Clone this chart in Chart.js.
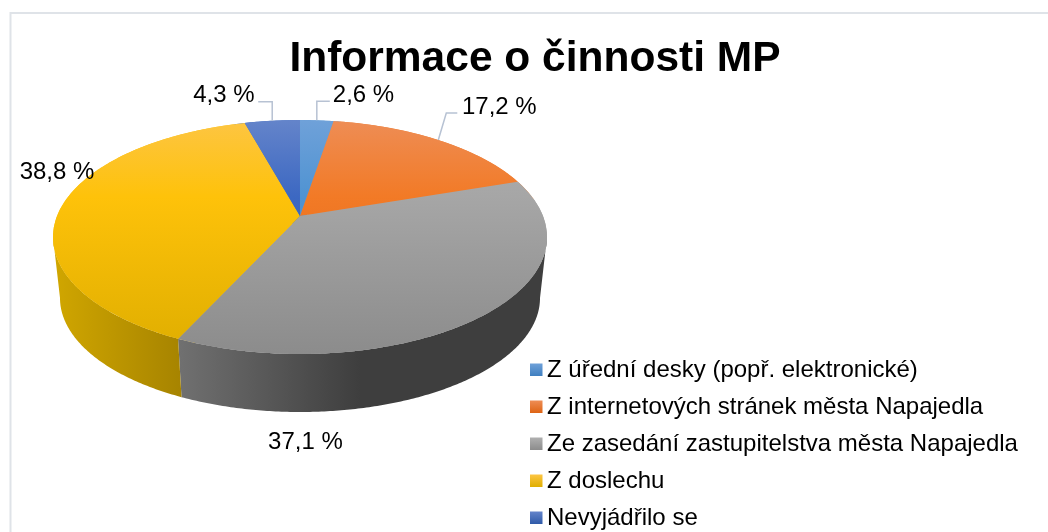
<!DOCTYPE html>
<html>
<head>
<meta charset="utf-8">
<style>html,body{margin:0;padding:0;background:#fff}canvas{display:block}</style>
<script src="https://cdn.jsdelivr.net/npm/chart.js@4"></script>
</head>
<body>
<canvas id="c" width="1048" height="532"></canvas>
<script>
const categories = [
  'Z úřední desky (popř. elektronické)',
  'Z internetových stránek města Napajedla',
  'Ze zasedání zastupitelstva města Napajedla',
  'Z doslechu',
  'Nevyjádřilo se'
];
const shares = [2.6, 17.2, 37.1, 38.8, 4.3];
const chartTitle = 'Informace o činnosti MP';
const baseColors = ['#5b9bd5', '#ed7d31', '#a5a5a5', '#ffc000', '#4472c4'];

// Appearance of the tilted pie
const FONT = '"Liberation Sans", Arial, sans-serif';
const LABEL_SIZE = 24;
const geom = {cx: 300, cy: 237, rx: 247, ry: 117, lift: 21, bcy: 298, brx: 240, bry: 114};
const persp = 2 * geom.lift / (2 * geom.ry);
const flatX = geom.rx * Math.sqrt(1 - persp * persp);
const edgeR = Math.acos(-persp), edgeL = 2 * Math.PI - edgeR;
const topStops = [
  ['#6fa1d9', '#4f93d2', '#3f7fc0'],
  ['#ee8d55', '#f27a26', '#de6414'],
  ['#b0b0b0', '#a6a6a6', '#8c8c8c'],
  ['#fdc543', '#fec20a', '#dfae00'],
  ['#6484ca', '#3c68c2', '#2f5aa8']
];
const wallStops = [
  null, null,
  {x0: 180, x1: 360, from: '#707070', to: '#3e3e3e'},
  {x0: 55, x1: 180, from: '#d0a600', to: '#a78400'},
  null
];
const labelShift = [[46.7, -25.3], [61, -33], [-182, 129], [-4.3, -35], [-48.4, -25.7]];
const leaders = [
  [[0, -19], [13, -19]],
  [[8, -27], [19, -27]],
  null,
  null,
  [[0, -19], [-14, -19]]
];

function project(theta) {
  const u = Math.sin(theta), v = -Math.cos(theta), d = 1 - persp * v;
  return {x: flatX * u / d, y: (geom.ry * v - geom.lift) / d};
}
function topPt(theta) {
  const p = project(theta);
  return {x: geom.cx + p.x, y: geom.cy + p.y};
}
function botPt(theta) {
  const p = project(theta);
  return {x: geom.cx + p.x * geom.brx / geom.rx, y: geom.bcy + p.y * geom.bry / geom.ry};
}
function sweep(a, b) {
  const n = Math.max(2, Math.ceil((b - a) / 0.01)), out = [];
  for (let i = 0; i <= n; i++) out.push(a + (b - a) * i / n);
  return out;
}

const tiltedPie = {
  id: 'tiltedPie',
  beforeDraw(chart) {
    const ctx = chart.ctx;
    ctx.save();
    ctx.strokeStyle = '#dfe3e8';
    ctx.lineWidth = 2;
    ctx.strokeRect(10.5, 13, 1100, 600);
    ctx.restore();
  },
  afterLayout(chart) {
    const lg = chart.legend, pad = lg.options.labels.padding;
    lg.left = 530 - pad;
    lg.right = 1048;
    lg.width = lg.right - lg.left;
    lg.top = 358 - pad;
    lg.bottom = 700;
    lg.height = lg.bottom - lg.top;
  },
  beforeDatasetsDraw(chart) {
    const arc = chart.getDatasetMeta(0).data[0], ctx = chart.ctx;
    ctx.save();
    ctx.translate(geom.cx, geom.cy);
    ctx.scale(geom.rx / arc.outerRadius, geom.ry / arc.outerRadius);
    ctx.translate(-arc.x, -arc.y);
  },
  afterDatasetsDraw(chart) {
    const ctx = chart.ctx, arcs = chart.getDatasetMeta(0).data;
    ctx.restore();
    const ang = a => ({s: a.startAngle + Math.PI / 2, e: a.endAngle + Math.PI / 2});
    // side walls: only the part of each slice between the two outer edges of the disc
    arcs.forEach((a, i) => {
      const w = wallStops[i];
      if (!w) return;
      const {s, e} = ang(a);
      const ts = sweep(Math.max(s, edgeR), Math.min(e, edgeL));
      const g = ctx.createLinearGradient(w.x0, 0, w.x1, 0);
      g.addColorStop(0, w.from);
      g.addColorStop(1, w.to);
      ctx.beginPath();
      ts.forEach((t, k) => { const p = topPt(t); k ? ctx.lineTo(p.x, p.y) : ctx.moveTo(p.x, p.y); });
      ts.slice().reverse().forEach(t => { const p = botPt(t); ctx.lineTo(p.x, p.y); });
      ctx.closePath();
      ctx.fillStyle = g;
      ctx.fill();
    });
    // top faces
    arcs.forEach((a, i) => {
      const {s, e} = ang(a);
      const g = ctx.createLinearGradient(0, 120, 0, 353);
      const st = topStops[i];
      g.addColorStop(0, st[0]);
      g.addColorStop(0.33, st[1]);
      g.addColorStop(1, st[2]);
      ctx.beginPath();
      ctx.moveTo(geom.cx, geom.cy - geom.lift);
      sweep(s, e).forEach(t => { const p = topPt(t); ctx.lineTo(p.x, p.y); });
      ctx.closePath();
      ctx.fillStyle = g;
      ctx.fill();
    });
  },
  afterDraw(chart) {
    const ctx = chart.ctx, arcs = chart.getDatasetMeta(0).data, lg = chart.legend;
    // legend swatches
    const pad = lg.options.labels.padding;
    arcs.forEach((a, i) => {
      const x = 530, y = 363.5 + i * (LABEL_SIZE + pad);
      const g = ctx.createLinearGradient(0, y, 0, y + 12.5);
      g.addColorStop(0, topStops[i][0]);
      g.addColorStop(1, topStops[i][2]);
      ctx.fillStyle = g;
      ctx.fillRect(x, y, 12.5, 12.5);
    });
    // data labels and leaders
    ctx.save();
    ctx.font = LABEL_SIZE + 'px ' + FONT;
    ctx.textAlign = 'center';
    ctx.textBaseline = 'middle';
    arcs.forEach((a, i) => {
      const mid = (a.startAngle + a.endAngle) / 2 + Math.PI / 2;
      const p = topPt(mid);
      const text = shares[i].toFixed(1).replace('.', ',') + ' %';
      if (leaders[i]) {
        ctx.beginPath();
        ctx.moveTo(p.x, p.y);
        leaders[i].forEach(o => ctx.lineTo(p.x + o[0], p.y + o[1]));
        ctx.strokeStyle = '#b7c2d3';
        ctx.lineWidth = 1.5;
        ctx.stroke();
      }
      ctx.fillStyle = '#000';
      ctx.fillText(text, p.x + labelShift[i][0], p.y + labelShift[i][1]);
    });
    ctx.restore();
  }
};

new Chart(document.getElementById('c'), {
  type: 'pie',
  data: {
    labels: categories,
    datasets: [{data: shares, backgroundColor: baseColors, borderWidth: 0, radius: 150, clip: false}]
  },
  options: {
    responsive: false,
    animation: false,
    events: [],
    layout: {padding: {left: 22, right: 0, top: 0, bottom: 0}},
    plugins: {
      title: {
        display: true,
        text: chartTitle,
        color: '#000',
        font: {family: FONT, size: 42.5, weight: 'bold', lineHeight: 1.2},
        padding: {top: 34, bottom: 0}
      },
      legend: {
        display: true,
        position: 'right',
        align: 'start',
        labels: {
          color: '#000',
          font: {family: FONT, size: LABEL_SIZE},
          boxWidth: 5,
          boxHeight: 12,
          padding: 13
        }
      },
      tooltip: {enabled: false}
    }
  },
  plugins: [tiltedPie]
});
</script>
</body>
</html>
